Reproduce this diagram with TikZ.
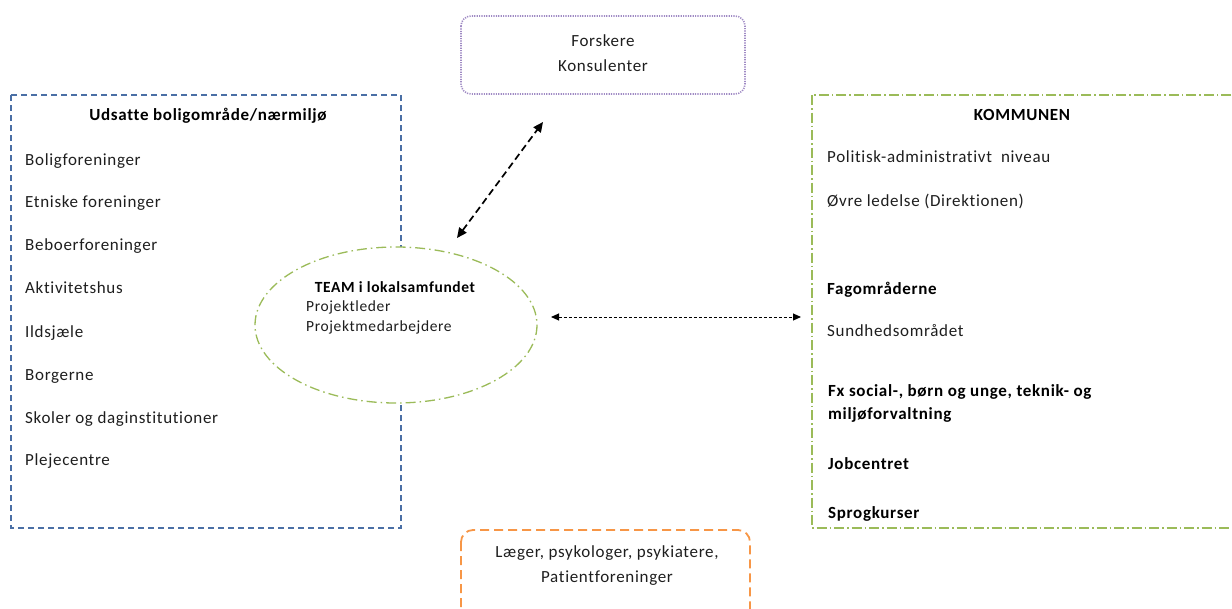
\documentclass[tikz,border=0pt]{standalone}
\usepackage{fontspec}
\setmainfont{Carlito}[LetterSpace=4, Ligatures=NoCommon]
\usetikzlibrary{arrows.meta}
\definecolor{boxblue}{HTML}{4A6FA5}
\definecolor{boxgreen}{HTML}{9BBB59}
\definecolor{boxpurple}{HTML}{A08BC4}
\definecolor{boxorange}{HTML}{F79646}
\definecolor{txt}{HTML}{1E1E1E}
\tikzset{
  lbl/.style={anchor=base west, inner sep=0pt, text=txt, font=\fontsize{17}{20}\selectfont},
  lblb/.style={lbl, font=\fontsize{17}{20}\selectfont\bfseries, text=black},
  ctr/.style={lbl, anchor=base},
  small/.style={font=\fontsize{15.5}{18}\selectfont},
  link/.style={{Triangle[length=10pt,width=9pt]}-{Triangle[length=10pt,width=9pt]}, black},
  flink/.style={{Triangle[length=8pt,width=7pt]}-{Triangle[length=8pt,width=7pt]}, black},
}
\begin{document}
\begin{tikzpicture}[x=1pt,y=-1pt]
\useasboundingbox (0,0) rectangle (1232,608);
\clip (0,0) rectangle (1232,608);

% neighbourhood box
\draw[boxblue, line width=1.3pt, dash pattern=on 6pt off 4pt] (11,95) rectangle (401,528);
\node[ctr, font=\fontsize{17}{20}\selectfont\bfseries, text=black] (ntitle) at (208,120) {Udsatte boligområde/nærmiljø};
\node[lbl] (n1) at (25,165) {Boligforeninger};
\node[lbl] (n2) at (25,207) {Etniske foreninger};
\node[lbl] (n3) at (25,250) {Beboerforeninger};
\node[lbl] (n4) at (25,293) {Aktivitetshus};
\node[lbl] (n5) at (25,337) {Ildsjæle};
\node[lbl] (n6) at (25,380) {Borgerne};
\node[lbl] (n7) at (25,423) {Skoler og daginstitutioner};
\node[lbl] (n8) at (25,465) {Plejecentre};

% municipality box
\draw[boxgreen, line width=1.3pt, dash pattern=on 10pt off 3pt on 1.5pt off 3pt] (812,95) rectangle (1236,528);
\node[ctr, font=\fontsize{17}{20}\selectfont\bfseries, text=black] (ktitle) at (1022,120) {KOMMUNEN};
\node[lbl] (k1) at (827,162) {Politisk-administrativt\ \ niveau};
\node[lbl] (k2) at (827,206) {Øvre ledelse (Direktionen)};
\node[lblb] (k3) at (827,294) {Fagområderne};
\node[lbl] (k4) at (827,336) {Sundhedsområdet};
\node[lblb] (k5) at (828,396) {Fx social-, børn og unge, teknik- og};
\node[lblb] (k5b) at (828,419) {miljøforvaltning};
\node[lblb] (k6) at (828,469) {Jobcentret};
\node[lblb] (k7) at (828,518) {Sprogkurser};

% team ellipse
\draw[boxgreen, fill=white, line width=1.3pt, dash pattern=on 10pt off 4pt on 1.5pt off 4pt] (396,325) ellipse [x radius=141, y radius=78];
\node[ctr, small, font=\fontsize{15.5}{18}\selectfont\bfseries, text=black] (team) at (395,292) {TEAM i lokalsamfundet};
\node[lbl, small] (t1) at (306,311) {Projektleder};
\node[lbl, small] (t2) at (306,331) {Projektmedarbejdere};

% researchers box
\draw[boxpurple, line width=1.6pt, dash pattern=on 1.2pt off 1.2pt, rounded corners=10pt] (461,16) rectangle (745,94);
\node[ctr] (f1) at (603,46) {Forskere};
\node[ctr] (f2) at (603,71) {Konsulenter};

% health professionals box
\draw[boxorange, line width=1.8pt, dash pattern=on 9pt off 5pt, rounded corners=12pt] (461,530) rectangle (750,640);
\node[ctr] (h1) at (607,557) {Læger, psykologer, psykiatere,};
\node[ctr] (h2) at (607,582) {Patientforeninger};

% connectors
\coordinate (dA) at (457,238);
\coordinate (dB) at (543,122);
\coordinate (hA) at (551,317);
\coordinate (hB) at (801,317);
\draw[link, line width=1.7pt, dash pattern=on 7pt off 4pt] (dA) -- (dB);
\draw[flink, line width=1pt, dash pattern=on 3pt off 2pt] (hA) -- (hB);
\end{tikzpicture}
\end{document}
